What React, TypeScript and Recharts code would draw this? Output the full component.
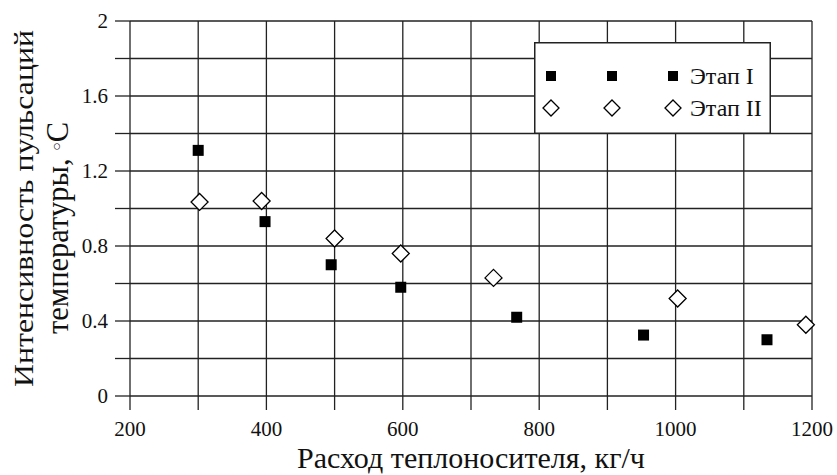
import { ScatterChart, Scatter, XAxis, YAxis, CartesianGrid, Legend } from 'recharts';

// Этап I (filled squares)
const etap1X = [300, 398, 495, 597, 767, 953, 1134];
const etap1Y = [1.31, 0.93, 0.70, 0.58, 0.42, 0.325, 0.30];

// Этап II (open diamonds)
const etap2X = [302, 393, 500, 597, 733, 1003, 1191];
const etap2Y = [1.035, 1.04, 0.84, 0.76, 0.63, 0.52, 0.38];

const xTicks = [200, 300, 400, 500, 600, 700, 800, 900, 1000, 1100, 1200];
const xTickLabels = ['200', '', '400', '', '600', '', '800', '', '1000', '', '1200'];
const yTicks = [0, 0.2, 0.4, 0.6, 0.8, 1, 1.2, 1.4, 1.6, 1.8, 2];
const yTickLabels = ['0', '', '0.4', '', '0.8', '', '1.2', '', '1.6', '', '2'];

const seriesNames = ['Этап I', 'Этап II'];
const xTitle = 'Расход теплоносителя, кг/ч';
const yTitle = ['Интенсивность пульсаций', 'температуры, ', '○', 'C'];

const FONT = "'Liberation Serif', 'Times New Roman', serif";
const INK = '#222';

const etap1 = etap1X.map((x, i) => ({ x, y: etap1Y[i] }));
const etap2 = etap2X.map((x, i) => ({ x, y: etap2Y[i] }));

const SquareDot = ({ cx, cy }: any) => (
  <rect x={cx - 5.5} y={cy - 5.5} width={11} height={11} fill="#000" />
);

const DiamondDot = ({ cx, cy, r = 8.5 }: any) => (
  <path
    d={`M${cx},${cy - r}L${cx + r},${cy}L${cx},${cy + r}L${cx - r},${cy}Z`}
    fill="#fff"
    stroke="#000"
    strokeWidth={1.3}
  />
);

const LegendBox = () => {
  const cols = [17, 78, 139];
  const rows = [34, 66];
  return (
    <svg width={237} height={92} style={{ display: 'block' }}>
      <rect x={0.75} y={0.75} width={235.5} height={90.5} fill="#fff" stroke={INK} strokeWidth={1.5} />
      {cols.map((cx) => (
        <g key={cx}>
          <rect x={cx - 5} y={rows[0] - 5} width={10} height={10} fill="#000" />
          <DiamondDot cx={cx} cy={rows[1]} r={8} />
        </g>
      ))}
      {seriesNames.map((n, i) => (
        <text key={n} x={156} y={rows[i] + 8} fontSize={24} fontFamily={FONT} fill="#111">
          {n}
        </text>
      ))}
    </svg>
  );
};

const XTitle = ({ viewBox }: any) => (
  <text
    x={viewBox.x + viewBox.width / 2}
    y={viewBox.y + 72}
    textAnchor="middle"
    fontSize={30}
    fontFamily={FONT}
    fill="#111"
  >
    {xTitle}
  </text>
);

const YTitle = ({ viewBox }: any) => {
  const bottom = viewBox.y + viewBox.height;
  const y1 = bottom - 9;
  const y2 = bottom - 168;
  return (
    <g fontFamily={FONT} fill="#111">
      <text
        x={33}
        y={y1}
        transform={`rotate(-90, 33, ${y1})`}
        fontSize={27}
        textLength={357}
        lengthAdjust="spacingAndGlyphs"
      >
        {yTitle[0]}
      </text>
      <text
        x={68}
        y={y2}
        transform={`rotate(-90, 68, ${y2})`}
        fontSize={30.5}
        textAnchor="middle"
      >
        {yTitle[1]}
        <tspan fontSize={14} dy={-7}>{yTitle[2]}</tspan>
        <tspan dy={7}>{yTitle[3]}</tspan>
      </text>
    </g>
  );
};

export default function App() {
  return (
    <div style={{ position: 'absolute', left: 0, top: 0, background: '#fff', fontFamily: FONT }}>
      <ScatterChart
        width={837}
        height={475}
        margin={{ top: 21, right: 25, bottom: 0, left: 0 }}
        style={{ fontFamily: FONT }}
      >
        <CartesianGrid stroke={INK} strokeWidth={1.3} />
        <XAxis
          type="number"
          dataKey="x"
          domain={[200, 1200]}
          ticks={xTicks}
          tickFormatter={(v, i) => xTickLabels[i]}
          interval={0}
          height={79}
          tickSize={14}
          tickMargin={11}
          axisLine={false}
          tickLine={{ stroke: INK, strokeWidth: 1.3 }}
          tick={{ fontSize: 21, fontFamily: FONT, fill: '#111' }}
          label={<XTitle />}
        />
        <YAxis
          type="number"
          dataKey="y"
          domain={[0, 2]}
          ticks={yTicks}
          tickFormatter={(v, i) => yTickLabels[i]}
          interval={0}
          width={130}
          tickSize={15}
          tickMargin={7}
          axisLine={false}
          tickLine={{ stroke: INK, strokeWidth: 1.3 }}
          tick={{ fontSize: 21, fontFamily: FONT, fill: '#111' }}
          label={<YTitle />}
        />
        <Legend
          layout="horizontal"
          verticalAlign="middle"
          align="center"
          content={() => <LegendBox />}
          wrapperStyle={{ position: 'absolute', left: 534, top: 42, width: 237, height: 92 }}
        />
        <Scatter name={seriesNames[0]} data={etap1} shape={<SquareDot />} isAnimationActive={false} />
        <Scatter name={seriesNames[1]} data={etap2} shape={<DiamondDot />} isAnimationActive={false} />
      </ScatterChart>
    </div>
  );
}
